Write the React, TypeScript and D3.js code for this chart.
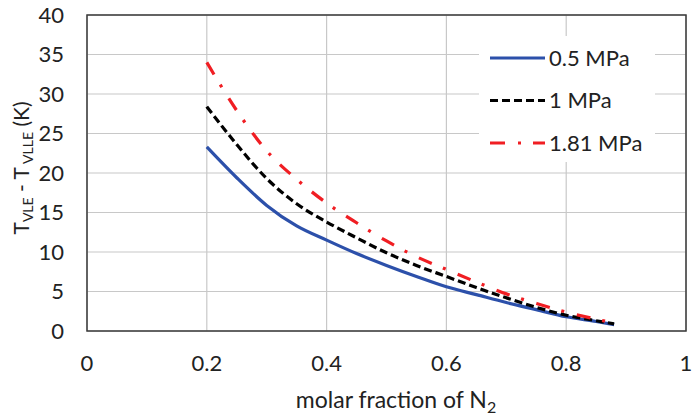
import React from "react";
import * as d3 from "d3";

const xs = [0.2, 0.25, 0.3, 0.35, 0.4, 0.45, 0.5, 0.55, 0.6, 0.65, 0.7, 0.75, 0.8, 0.85, 0.88];
const s05 = [23.3, 19.4, 15.9, 13.3, 11.5, 9.8, 8.3, 6.9, 5.6, 4.6, 3.6, 2.7, 1.8, 1.2, 0.8];
const s1 = [28.4, 23.6, 19.3, 16.1, 13.8, 11.8, 9.9, 8.3, 6.9, 5.5, 4.2, 3.0, 2.0, 1.3, 0.9];
const s181 = [34.0, 27.9, 22.8, 19.2, 16.2, 13.7, 11.4, 9.4, 7.8, 6.2, 4.7, 3.5, 2.4, 1.5, 1.0];
const xTicks = [0, 0.2, 0.4, 0.6, 0.8, 1];
const yTicks = [0, 5, 10, 15, 20, 25, 30, 35, 40];
const seriesNames = ["0.5 MPa", "1 MPa", "1.81 MPa"];

const FONT = "Lato, 'Open Sans', sans-serif";

export default function App() {
  const W = 693, H = 417;
  const left = 87, right = 686, top = 15, bottom = 331;
  const x = d3.scaleLinear().domain([0, 1]).range([left, right]);
  const y = d3.scaleLinear().domain([0, 40]).range([bottom, top]);
  const line = d3.line<[number, number]>().x(d => x(d[0])).y(d => y(d[1])).curve(d3.curveMonotoneX);
  const series = [
    { name: seriesNames[0], vals: s05, color: "#2C50AA", dash: undefined as string | undefined, width: 3.2 },
    { name: seriesNames[1], vals: s1, color: "#000000", dash: "8,4", width: 3.2 },
    { name: seriesNames[2], vals: s181, color: "#F01E23", dash: "14,12,3,13", width: 3.2 },
  ];
  return (
    <svg width={W} height={H} style={{ position: "absolute", left: 0, top: 0 }} fontFamily={FONT}>
      <rect x={0} y={0} width={W} height={H} fill="#fff" />
      {yTicks.map(t => (
        <line key={"gy" + t} x1={left} x2={right} y1={y(t)} y2={y(t)} stroke="#C8C8C8" strokeWidth={1.2} />
      ))}
      {xTicks.map(t => (
        <line key={"gx" + t} x1={x(t)} x2={x(t)} y1={top} y2={bottom} stroke="#C8C8C8" strokeWidth={1.2} />
      ))}
      {series.map(s => (
        <path key={s.name} d={line(xs.map((v, i) => [v, s.vals[i]] as [number, number])) || ""}
          fill="none" stroke={s.color} strokeWidth={s.width} strokeDasharray={s.dash} />
      ))}
      <rect x={left} y={top} width={right - left} height={bottom - top} fill="none" stroke="#3A3A3A" strokeWidth={1.5} />
      {yTicks.map(t => (
        <text key={"ty" + t} x={64} y={y(t)} dy="0.36em" textAnchor="end" fontSize={22} fill="#222">{t}</text>
      ))}
      {xTicks.map(t => (
        <text key={"tx" + t} x={x(t)} y={371} textAnchor="middle" fontSize={22} fill="#222">{t}</text>
      ))}
      <text x={396} y={408} textAnchor="middle" fontSize={23} fill="#222">
        molar fraction of N<tspan fontSize={16} dy={5}>2</tspan>
      </text>
      <text transform={`translate(29,168) rotate(-90)`} textAnchor="middle" fontSize={21} fill="#222">
        T<tspan fontSize={14} dy={4}>VLE</tspan><tspan dy={-4}> - T</tspan><tspan fontSize={14} dy={4}> VLLE</tspan><tspan dy={-4}> (K)</tspan>
      </text>
      <rect x={479} y={36} width={176} height={126} fill="#fff" />
      {series.map((s, i) => (
        <g key={"lg" + i}>
          <line x1={490} x2={545} y1={58 + i * 42.5} y2={58 + i * 42.5} stroke={s.color} strokeWidth={s.width}
            strokeDasharray={i === 2 ? "15,13,3,12" : s.dash} />
          <text x={549} y={58 + i * 42.5} dy="0.36em" fontSize={22} fill="#222">{s.name}</text>
        </g>
      ))}
    </svg>
  );
}
